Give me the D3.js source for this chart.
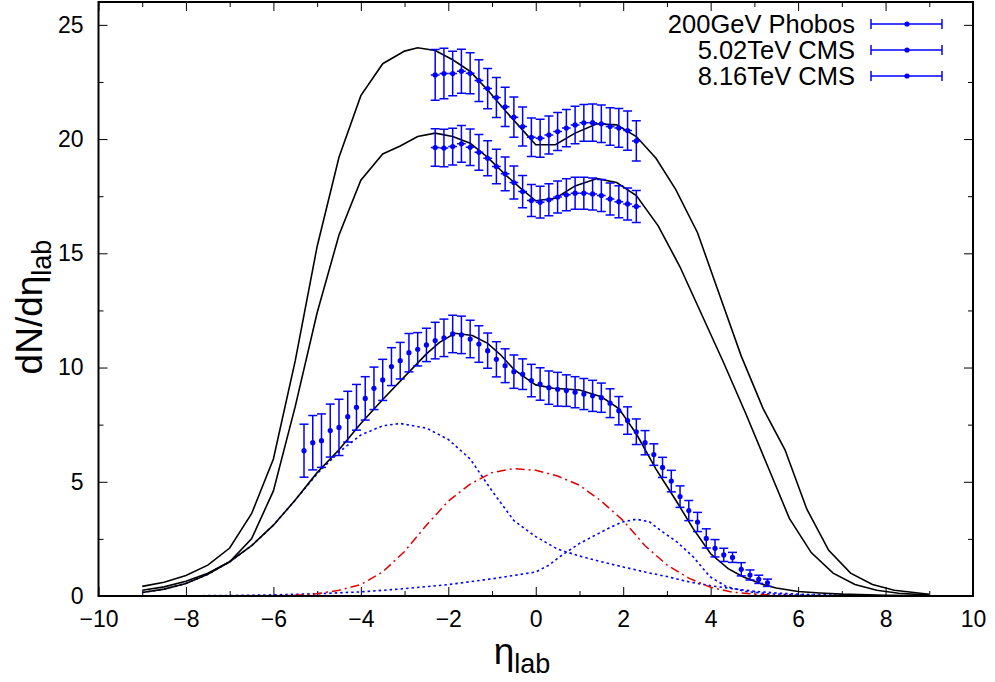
<!DOCTYPE html>
<html><head><meta charset="utf-8">
<script src="https://cdn.jsdelivr.net/npm/d3@7/dist/d3.min.js"></script>
<style>
body{margin:0;background:#fff}
svg{display:block}
text{font-family:"Liberation Sans",Arial,Helvetica,sans-serif;fill:#000}
</style>
</head><body>
<svg id="chart" width="995" height="682"></svg>
<script>
// ---------- tick labels ----------
const xTicks = [-10,-8,-6,-4,-2,0,2,4,6,8,10];
const xMinor = [-9,-7,-5,-3,-1,1,3,5,7,9];
const yTicks = [0,5,10,15,20,25];
const yMinor = [2.5,7.5,12.5,17.5,22.5];
const legendLabels = ["200GeV Phobos","5.02TeV CMS","8.16TeV CMS"];

// ---------- data: 200 GeV PHOBOS ----------
const phobosEta = [-5.3,-5.1,-4.9,-4.7,-4.5,-4.3,-4.1,-3.9,-3.7,-3.5,-3.3,-3.1,-2.9,-2.7,-2.5,-2.3,-2.1,-1.9,-1.7,-1.5,-1.3,-1.1,-0.9,-0.7,-0.5,-0.3,-0.1,0.1,0.3,0.5,0.7,0.9,1.1,1.3,1.5,1.7,1.9,2.1,2.3,2.5,2.7,2.9,3.1,3.3,3.5,3.7,3.9,4.1,4.3,4.5,4.7,4.9,5.1,5.3];
const phobosVal = [6.36,6.71,6.80,7.24,7.38,7.85,8.26,8.65,9.09,9.46,10.04,10.30,10.65,10.80,10.99,11.18,11.30,11.47,11.43,11.25,11.03,10.74,10.36,10.08,9.82,9.71,9.43,9.28,9.12,9.05,8.99,8.92,8.84,8.76,8.68,8.44,8.11,7.68,7.19,6.71,6.19,5.63,5.03,4.35,3.74,3.24,2.52,2.09,1.80,1.69,1.17,0.92,0.73,0.58];
const phobosErr = [1.16,1.19,1.17,1.16,1.23,1.11,1.0,0.95,0.93,0.9,0.83,0.80,0.84,0.73,0.73,0.80,0.82,0.82,0.82,0.82,0.80,0.77,0.77,0.74,0.73,0.67,0.71,0.71,0.73,0.74,0.69,0.68,0.68,0.68,0.64,0.63,0.62,0.60,0.56,0.53,0.47,0.44,0.47,0.47,0.44,0.42,0.42,0.38,0.29,0.22,0.29,0.22,0.18,0.16];

// ---------- data: CMS ----------
const cmsEta = [-2.3,-2.1,-1.9,-1.7,-1.5,-1.3,-1.1,-0.9,-0.7,-0.5,-0.3,-0.1,0.1,0.3,0.5,0.7,0.9,1.1,1.3,1.5,1.7,1.9,2.1,2.3];
const cms502Val = [19.63,19.61,19.67,19.79,19.64,19.42,19.16,18.80,18.48,18.10,17.70,17.31,17.24,17.34,17.46,17.56,17.63,17.63,17.60,17.53,17.38,17.26,17.16,17.05];
const cms502Err = [0.82,0.82,0.80,0.80,0.80,0.78,0.77,0.75,0.74,0.72,0.71,0.70,0.70,0.70,0.70,0.70,0.70,0.70,0.70,0.70,0.70,0.70,0.70,0.70];
const cms816Val = [22.81,22.87,22.87,22.97,22.88,22.56,22.21,21.82,21.41,20.96,20.55,20.08,20.04,20.18,20.33,20.48,20.62,20.71,20.72,20.67,20.55,20.49,20.37,19.92];
const cms816Err = [1.11,1.11,0.97,0.96,0.90,0.91,0.88,0.88,0.86,0.88,0.85,0.84,0.83,0.83,0.83,0.82,0.82,0.80,0.82,0.82,0.82,0.85,0.86,0.88];
const cmsEtaHalfWidth = 0.1;

// ---------- model curves ----------
const model816X = [-9,-8.5,-8,-7.5,-7,-6.5,-6,-5.5,-5,-4.5,-4,-3.5,-3,-2.7,-2.3,-1.9,-1.5,-1.1,-0.7,-0.35,0,0.45,0.9,1.4,1.85,2.3,2.75,3.2,3.7,4.2,4.7,5.2,5.7,6.2,6.7,7.2,7.7,8.2,9];
const model816Y = [0.42,0.6,0.9,1.35,2.1,3.6,6.0,10.3,15.3,19.2,21.9,23.3,23.85,24.0,23.88,23.47,22.96,22.15,21.25,20.5,19.75,19.75,20.26,20.67,20.62,20.11,19.16,17.8,15.9,13.2,10.5,8.2,6.4,3.8,2.0,1.0,0.5,0.25,0.08];
const model502X = [-9,-8.5,-8,-7.5,-7,-6.5,-6,-5.5,-5,-4.5,-4,-3.5,-3.1,-2.7,-2.3,-1.9,-1.5,-1.1,-0.7,-0.35,0,0.45,0.9,1.4,1.85,2.3,2.8,3.3,3.8,4.3,4.8,5.3,5.8,6.3,6.8,7.3,7.8,8.3,9];
const model502Y = [0.25,0.4,0.65,1.0,1.5,2.5,4.6,8.3,12.4,15.8,18.2,19.35,19.7,20.11,20.26,20.11,19.82,19.2,18.45,17.85,17.3,17.41,17.95,18.27,18.1,17.53,16.2,14.4,12.3,10.2,8.0,5.7,3.4,1.9,1.0,0.5,0.25,0.12,0.04];
const modelPhobosX = [-9,-8.5,-8,-7.5,-7,-6.5,-6,-5.5,-5,-4.5,-4,-3.5,-3,-2.5,-2.2,-1.85,-1.45,-1.1,-0.8,-0.5,-0.2,0,0.4,1.0,1.5,1.9,2.3,2.75,3.2,3.6,4.0,4.4,4.75,5.2,5.5,6.0,6.5,7,8,9];
const modelPhobosY = [0.15,0.3,0.55,0.95,1.5,2.2,3.1,4.2,5.4,6.4,7.55,8.6,9.6,10.6,11.1,11.5,11.4,11.06,10.55,9.92,9.5,9.24,9.09,9.02,8.72,8.2,7.1,5.55,4.2,2.95,1.85,1.2,0.83,0.5,0.35,0.2,0.13,0.08,0.03,0.01];
const compLeftX = [-9,-8.5,-8,-7.5,-7,-6.5,-6,-5.5,-5,-4.5,-4,-3.5,-3.1,-2.5,-2,-1.5,-1,-0.5,0,0.5,1.0,1.5,2.0,2.5,3.0,3.5,4.0,4.5,5.0,5.5,6,7,8,9];
const compLeftY = [0.15,0.3,0.55,0.95,1.5,2.2,3.1,4.2,5.35,6.3,7.05,7.45,7.55,7.35,6.85,6.0,4.6,3.3,2.6,2.05,1.75,1.5,1.27,1.05,0.85,0.62,0.45,0.32,0.21,0.13,0.08,0.03,0.01,0];
const compRightX = [-9,-7,-6,-5,-4,-3,-2,-1,0,0.3,0.55,1.0,1.3,1.7,2.0,2.3,2.6,2.84,3.22,3.6,3.98,4.36,4.8,5.3,6,7,8,9];
const compRightY = [0,0.02,0.05,0.1,0.18,0.32,0.5,0.75,1.05,1.35,1.72,2.3,2.6,3.0,3.25,3.36,3.25,2.89,2.38,1.72,0.85,0.41,0.2,0.1,0.04,0.01,0,0];
const compMidX = [-9,-7,-6,-5.5,-5,-4.5,-4,-3.5,-3,-2.5,-2,-1.5,-1,-0.5,0,0.5,1,1.5,2,2.5,3,3.5,4,4.5,5,5.5,6,7,9];
const compMidY = [0,0.003,0.01,0.03,0.1,0.25,0.5,1.05,1.95,3.1,4.15,4.9,5.4,5.58,5.5,5.25,4.85,4.15,3.3,2.2,1.36,0.78,0.38,0.17,0.08,0.03,0.01,0,0];

// ---------- layout ----------
const svg = d3.select("#chart");
const L = 98.5, R = 973, T = 2, B = 596;
const x = d3.scaleLinear().domain([-10,10]).range([L,R]);
const y = d3.scaleLinear().domain([0,26]).range([B,T]);
const BLUE = "#0000ff";
const fmt = d => d < 0 ? "\u2212" + Math.abs(d) : String(d);

function styleAxis(g){ g.select(".domain").remove(); g.selectAll(".tick line").attr("stroke","#000").attr("stroke-width",1); g.selectAll("text").attr("font-size",23).attr("font-family","'Liberation Sans',Arial,sans-serif").attr("fill","#000"); }
svg.append("g").attr("transform",`translate(0,${B})`)
  .call(d3.axisBottom(x).tickValues(xTicks).tickSizeInner(-9).tickSizeOuter(0).tickPadding(15).tickFormat(fmt)).call(styleAxis);
svg.append("g").attr("transform",`translate(0,${B})`)
  .call(d3.axisBottom(x).tickValues(xMinor).tickSizeInner(-5).tickSizeOuter(0).tickFormat("")).call(styleAxis);
svg.append("g").attr("transform",`translate(0,${T})`)
  .call(d3.axisTop(x).tickValues(xTicks).tickSizeInner(-9).tickSizeOuter(0).tickFormat("")).call(styleAxis);
svg.append("g").attr("transform",`translate(0,${T})`)
  .call(d3.axisTop(x).tickValues(xMinor).tickSizeInner(-5).tickSizeOuter(0).tickFormat("")).call(styleAxis);
svg.append("g").attr("transform",`translate(${L},0)`)
  .call(d3.axisLeft(y).tickValues(yTicks).tickSizeInner(-9).tickSizeOuter(0).tickPadding(15).tickFormat(fmt)).call(styleAxis);
svg.append("g").attr("transform",`translate(${L},0)`)
  .call(d3.axisLeft(y).tickValues(yMinor).tickSizeInner(-5).tickSizeOuter(0).tickFormat("")).call(styleAxis);
svg.append("g").attr("transform",`translate(${R},0)`)
  .call(d3.axisRight(y).tickValues(yTicks).tickSizeInner(-9).tickSizeOuter(0).tickFormat("")).call(styleAxis);
svg.append("g").attr("transform",`translate(${R},0)`)
  .call(d3.axisRight(y).tickValues(yMinor).tickSizeInner(-5).tickSizeOuter(0).tickFormat("")).call(styleAxis);

svg.append("clipPath").attr("id","clip").append("rect").attr("x",L).attr("y",T).attr("width",R-L).attr("height",B-T);
const plot = svg.append("g").attr("clip-path","url(#clip)");

const line = d3.line().x(d=>x(d[0])).y(d=>y(d[1]));
function curve(xs, ys, color, dash, w){
  plot.append("path").datum(xs.map((v,i)=>[v,ys[i]]))
    .attr("d",line).attr("fill","none").attr("stroke",color).attr("stroke-width",w||1.5)
    .attr("stroke-dasharray",dash||null);
}
curve(compRightX, compRightY, BLUE, "2.5,3", 1.6);
curve(compLeftX, compLeftY, BLUE, "2.5,3", 1.6);
curve(compMidX, compMidY, "#e00000", "9,4,2,4", 1.5);
curve(model816X, model816Y, "#000", null, 1.6);
curve(model502X, model502Y, "#000", null, 1.6);
curve(modelPhobosX, modelPhobosY, "#000", null, 1.6);

function errData(xs, vals, errs, dx){
  const g = plot.append("g");
  const cap = 4.5;
  xs.forEach((xv,i)=>{
    const cx = x(xv), cy = y(vals[i]), y1 = y(vals[i]-errs[i]), y2 = y(vals[i]+errs[i]);
    g.append("line").attr("x1",cx).attr("x2",cx).attr("y1",y1).attr("y2",y2).attr("stroke",BLUE).attr("stroke-width",1.5);
    g.append("line").attr("x1",cx-cap).attr("x2",cx+cap).attr("y1",y1).attr("y2",y1).attr("stroke",BLUE).attr("stroke-width",1.5);
    g.append("line").attr("x1",cx-cap).attr("x2",cx+cap).attr("y1",y2).attr("y2",y2).attr("stroke",BLUE).attr("stroke-width",1.5);
    if(dx){
      g.append("line").attr("x1",x(xv-dx)).attr("x2",x(xv+dx)).attr("y1",cy).attr("y2",cy).attr("stroke",BLUE).attr("stroke-width",1.5);
    }
    g.append("circle").attr("cx",cx).attr("cy",cy).attr("r",2.6).attr("fill",BLUE);
  });
}
errData(phobosEta, phobosVal, phobosErr, 0);
errData(cmsEta, cms502Val, cms502Err, cmsEtaHalfWidth);
errData(cmsEta, cms816Val, cms816Err, cmsEtaHalfWidth);

svg.append("rect").attr("x",L).attr("y",T).attr("width",R-L).attr("height",B-T)
  .attr("fill","none").attr("stroke","#000").attr("stroke-width",2);

const legY = [24,50,76];
legendLabels.forEach((lab,i)=>{
  const ly = legY[i];
  svg.append("text").attr("x",855).attr("y",ly).attr("dy","0.35em").attr("text-anchor","end")
    .attr("font-size",25.5).text(lab);
  svg.append("line").attr("x1",871).attr("x2",942).attr("y1",ly).attr("y2",ly).attr("stroke",BLUE).attr("stroke-width",1.5);
  svg.append("line").attr("x1",871).attr("x2",871).attr("y1",ly-5).attr("y2",ly+5).attr("stroke",BLUE).attr("stroke-width",1.5);
  svg.append("line").attr("x1",942).attr("x2",942).attr("y1",ly-5).attr("y2",ly+5).attr("stroke",BLUE).attr("stroke-width",1.5);
  svg.append("circle").attr("cx",907).attr("cy",ly).attr("r",2.6).attr("fill",BLUE);
});

const yt = svg.append("text").attr("transform","translate(42,307) rotate(-90)").attr("text-anchor","middle").attr("font-size",37);
yt.append("tspan").text("dN/d\u03b7");
yt.append("tspan").attr("font-size",27).attr("dy",9).text("lab");
const xt = svg.append("text").attr("x",522).attr("y",664).attr("text-anchor","middle").attr("font-size",37);
xt.append("tspan").text("\u03b7");
xt.append("tspan").attr("font-size",27).attr("dy",9).text("lab");
</script>
</body></html>
